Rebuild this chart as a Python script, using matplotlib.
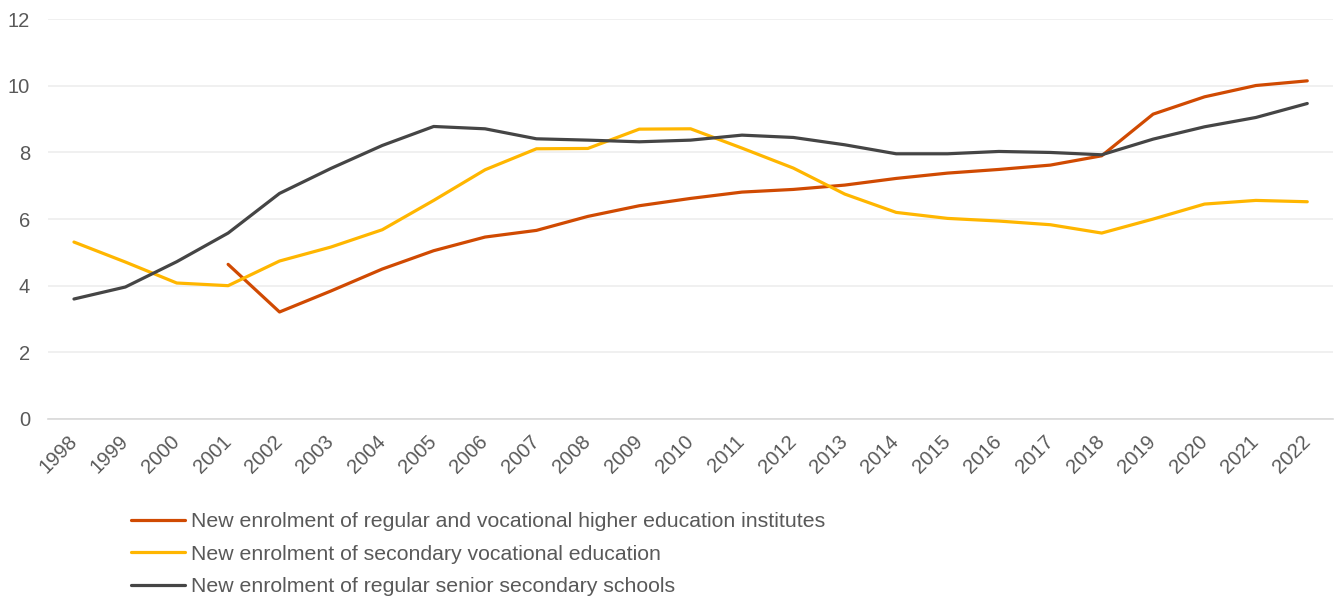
import matplotlib.pyplot as plt
import matplotlib

matplotlib.rcParams['font.family'] = ['Liberation Sans', 'DejaVu Sans']

years = [str(y) for y in range(1998, 2023)]

higher_ed = [None, None, None, 4.64, 3.21, 3.84, 4.50, 5.05, 5.46, 5.66, 6.08, 6.40,
             6.62, 6.81, 6.89, 7.02, 7.22, 7.38, 7.49, 7.62, 7.90, 9.15, 9.67, 10.01, 10.15]
sec_vocational = [5.31, 4.71, 4.08, 4.00, 4.74, 5.16, 5.68, 6.56, 7.48, 8.11, 8.12, 8.70,
                  8.71, 8.13, 7.53, 6.75, 6.20, 6.02, 5.94, 5.83, 5.58, 6.00, 6.45, 6.56, 6.52]
senior_sec = [3.60, 3.96, 4.72, 5.58, 6.77, 7.52, 8.21, 8.78, 8.71, 8.41, 8.37, 8.32,
              8.37, 8.52, 8.45, 8.23, 7.96, 7.96, 8.03, 8.00, 7.93, 8.40, 8.77, 9.05, 9.47]

labels = ["New enrolment of regular and vocational higher education institutes",
          "New enrolment of secondary vocational education",
          "New enrolment of regular senior secondary schools"]
colors = ["#D04A02", "#FFB600", "#454545"]

fig = plt.figure(figsize=(13.41, 6.01), dpi=100)
ax = fig.add_axes([0.036, 0.303, 0.958, 0.665])

x = list(range(len(years)))
for data, lab, col in zip([higher_ed, sec_vocational, senior_sec], labels, colors):
    xs = [i for i, v in zip(x, data) if v is not None]
    ys = [v for v in data if v is not None]
    ax.plot(xs, ys, color=col, linewidth=2.3, label=lab, solid_capstyle='round')

ax.set_ylim(0, 12)
ax.set_xlim(-0.5, len(years) - 0.5)
ax.set_yticks(range(0, 13, 2))
ax.set_xticks(x)
ax.set_xticklabels(years, rotation=45, ha='right', va='center', rotation_mode='anchor')
ax.grid(axis='y', color='#ededed', linewidth=1.2)
ax.set_axisbelow(True)
for s in ['top', 'right', 'left']:
    ax.spines[s].set_visible(False)
ax.spines['bottom'].set_color('#d9d9d9')
ax.spines['bottom'].set_linewidth(1.2)
ax.tick_params(axis='both', length=0, labelsize=14.5, colors='#595959')
ax.tick_params(axis='y', pad=13)
ax.tick_params(axis='x', pad=14)

leg = fig.legend(loc='upper left', bbox_to_anchor=(0.0977, 0.148), frameon=False,
                 fontsize=15.3, handlelength=2.55, handletextpad=0.25, labelspacing=0.64,
                 borderaxespad=0, borderpad=0)
for t in leg.get_texts():
    t.set_color('#595959')

plt.savefig('out.png', dpi=100)
plt.close()
